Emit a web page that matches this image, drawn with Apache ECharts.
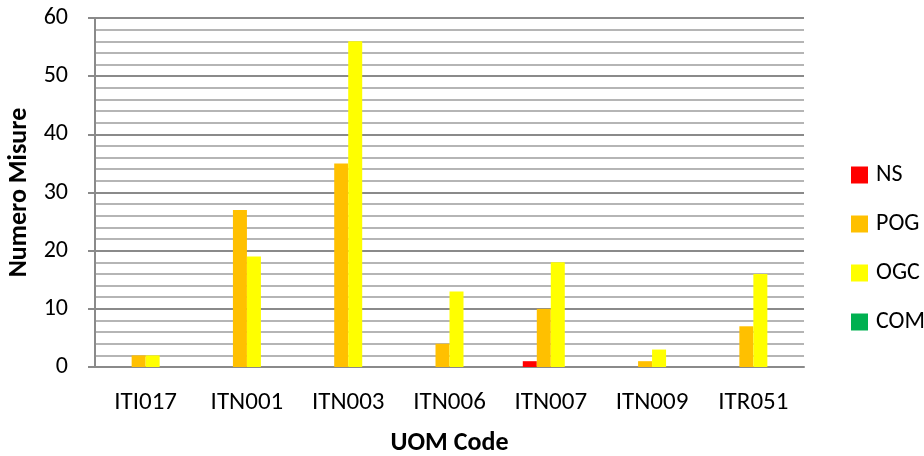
<!DOCTYPE html>
<html>
<head>
<meta charset="utf-8">
<script src="https://cdn.jsdelivr.net/npm/echarts@6/dist/echarts.min.js"></script>
<style>
  html, body { margin: 0; padding: 0; background: #fff; }
  #chart { width: 924px; height: 456px; }
</style>
</head>
<body>
<div id="chart"></div>
<script>
var categories = ['ITI017', 'ITN001', 'ITN003', 'ITN006', 'ITN007', 'ITN009', 'ITR051'];
var nsValues  = [0, 0, 0, 0, 1, 0, 0];
var pogValues = [2, 27, 35, 4, 10, 1, 7];
var ogcValues = [2, 19, 56, 13, 18, 3, 16];
var comValues = [0, 0, 0, 0, 0, 0, 0];

var fontFam = 'Carlito, Lato, "Open Sans", sans-serif';

var makeBar = function (name, color, data) {
    return {
        name: name,
        type: 'bar',
        barWidth: 14,
        barGap: '0%',
        itemStyle: { color: color },
        data: data
    };
};

var chart = echarts.init(document.getElementById('chart'));
var option = {
    backgroundColor: '#ffffff',
    animation: false,
    textStyle: { fontFamily: fontFam },
    grid: { left: 95, right: 120, top: 18, bottom: 89, containLabel: false, outerBoundsMode: 'none' },
    legend: {
        orient: 'vertical',
        left: 846,
        top: 158,
        itemWidth: 17,
        itemHeight: 17,
        itemGap: 25,
        itemStyle: { borderWidth: 0 },
        icon: 'rect',
        textStyle: { fontSize: 24, color: '#000', fontFamily: fontFam, padding: [0, 0, 0, 3] },
        data: ['NS', 'POG', 'OGC', 'COM']
    },
    xAxis: {
        type: 'category',
        data: categories,
        name: 'UOM Code',
        nameLocation: 'middle',
        nameGap: 63,
        nameTextStyle: { fontSize: 26, fontWeight: 'bold', color: '#000', fontFamily: fontFam },
        axisLine: { lineStyle: { color: '#8a8a8a', width: 2 } },
        axisTick: { show: false },
        axisLabel: { fontSize: 25, color: '#000', margin: 23, fontFamily: fontFam }
    },
    yAxis: {
        type: 'value',
        min: 0,
        max: 60,
        interval: 10,
        name: 'Numero Misure',
        nameLocation: 'middle',
        nameGap: 62,
        nameTextStyle: { fontSize: 26, fontWeight: 'bold', color: '#000', fontFamily: fontFam },
        axisLine: { show: true, lineStyle: { color: '#8a8a8a', width: 2 } },
        axisTick: { show: true, length: 7, lineStyle: { color: '#8a8a8a', width: 2 } },
        axisLabel: { fontSize: 24, color: '#000', margin: 27, fontFamily: fontFam },
        splitLine: { show: true, lineStyle: { color: '#8a8a8a', width: 2 } },
        minorTick: { show: false, splitNumber: 5 },
        minorSplitLine: { show: true, lineStyle: { color: '#b5b5b5', width: 2 } }
    },
    series: [
        makeBar('NS', '#ff0000', nsValues),
        makeBar('POG', '#ffc000', pogValues),
        makeBar('OGC', '#ffff00', ogcValues),
        makeBar('COM', '#00b050', comValues)
    ]
};
chart.setOption(option);
</script>
</body>
</html>
